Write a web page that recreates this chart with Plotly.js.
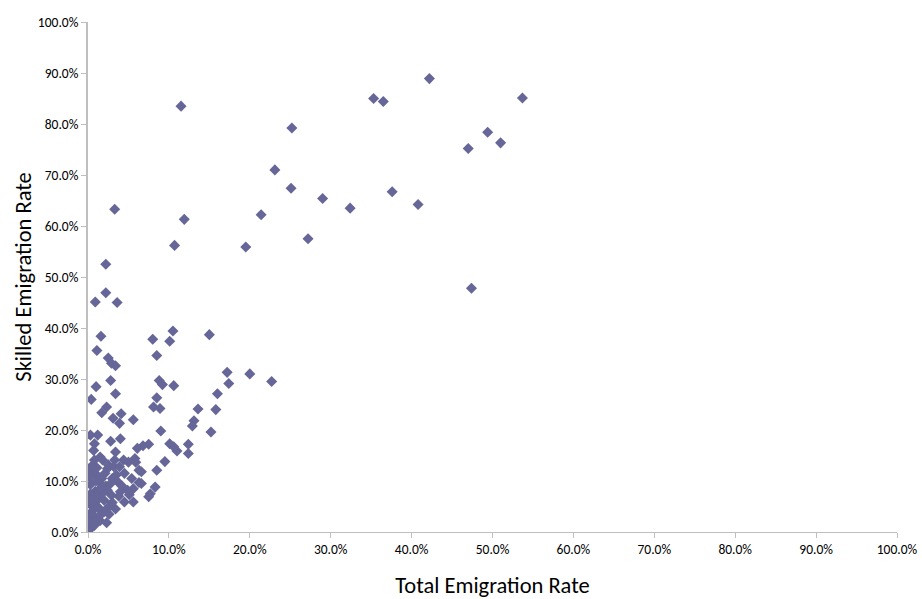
<!DOCTYPE html>
<html>
<head>
<meta charset="utf-8">
<script src="https://cdn.plot.ly/plotly-3.0.1.min.js"></script>
<style>html,body{margin:0;padding:0;background:#fff;}#chart{width:922px;height:599px;}</style>
</head>
<body>
<div id="chart"></div>
<script>
// Total emigration rate (%) for each country
var totalRate = [
  42.2, 35.3, 36.5, 53.7, 11.5, 25.2, 49.4, 51.0, 47.0, 23.1,
  25.1, 37.6, 29.0, 40.8, 32.4, 3.3, 21.4, 11.9, 27.2, 10.7,
  19.5, 2.2, 47.4, 2.2, 0.9, 3.6, 10.5, 15.0, 1.6, 8.0,
  10.1, 1.1, 8.5, 2.5, 2.9, 3.4, 17.2, 20.0, 2.8, 8.8,
  22.7, 17.4, 9.2, 10.6, 1.0, 3.4, 16.0, 8.5, 0.4, 2.3,
  8.1, 8.9, 13.6, 15.8, 1.7, 4.1, 3.1, 5.6, 13.1, 3.9,
  12.9, 9.0, 15.2, 0.3, 1.2, 4.0, 2.8, 0.8, 7.5, 12.4,
  10.1, 6.8, 10.6, 6.1, 11.0, 0.7, 3.4, 12.4, 1.5, 5.8,
  0.8, 1.8, 3.3, 4.4, 5.0, 5.9, 9.5, 2.4, 6.3, 8.5,
  6.6, 4.5, 0.5, 1.2, 5.4, 3.0, 1.4, 3.7, 6.6, 0.3,
  2.2, 8.3, 4.9, 5.6, 0.9, 1.8, 7.7, 2.9, 3.8, 7.5,
  0.4, 1.3, 2.0, 4.5, 5.6, 0.2, 1.0, 2.6, 1.4, 3.4,
  0.5, 1.8, 0.2, 0.6, 1.1, 0.3, 0.8, 0.4, 0.1, 0.6,
  2.4, 3.2, 1.7, 4.0, 2.6, 0.9, 2.1, 1.5, 0.2, 0.5,
  5.1, 6.3, 0.3, 1.5, 2.8, 3.5, 1.0, 2.0, 3.0, 0.7,
  1.3, 4.2, 2.5, 1.1, 3.9, 0.2, 2.3
];
// Skilled emigration rate (%) for each country
var skilledRate = [
  88.9, 85.0, 84.4, 85.1, 83.5, 79.2, 78.4, 76.3, 75.2, 71.0,
  67.4, 66.7, 65.4, 64.2, 63.5, 63.3, 62.2, 61.3, 57.5, 56.2,
  55.9, 52.5, 47.8, 46.9, 45.1, 45.0, 39.4, 38.7, 38.4, 37.8,
  37.4, 35.6, 34.6, 34.1, 33.1, 32.6, 31.3, 31.0, 29.7, 29.7,
  29.5, 29.1, 28.9, 28.7, 28.5, 27.1, 27.1, 26.3, 26.0, 24.5,
  24.5, 24.2, 24.1, 24.0, 23.4, 23.2, 22.3, 22.0, 21.8, 21.3,
  20.8, 19.8, 19.6, 19.0, 19.0, 18.3, 17.8, 17.3, 17.2, 17.2,
  17.3, 16.9, 16.7, 16.4, 15.9, 16.0, 15.7, 15.4, 14.7, 14.4,
  14.1, 14.1, 14.1, 14.1, 13.7, 13.7, 13.8, 12.4, 12.1, 12.1,
  11.8, 11.5, 11.8, 11.0, 10.5, 10.5, 9.8, 9.8, 9.5, 9.3,
  9.0, 8.8, 8.2, 8.5, 8.0, 7.6, 7.5, 7.2, 7.0, 6.9,
  6.8, 6.5, 6.2, 5.9, 5.9, 5.5, 5.2, 5.0, 4.6, 4.5,
  4.0, 3.8, 3.0, 3.3, 2.5, 2.0, 1.3, 0.9, 0.3, 6.0,
  8.2, 12.8, 10.5, 7.9, 3.5, 7.1, 11.5, 2.2, 12.5, 13.0,
  7.3, 9.7, 7.5, 8.5, 9.5, 11.2, 10.0, 4.0, 5.8, 2.0,
  3.0, 9.0, 13.2, 12.6, 12.8, 10.8, 1.8
];
var tickVals = [0, 10, 20, 30, 40, 50, 60, 70, 80, 90, 100];
var tickText = ["0.0%", "10.0%", "20.0%", "30.0%", "40.0%", "50.0%", "60.0%", "70.0%", "80.0%", "90.0%", "100.0%"];

var trace = {
  type: 'scatter',
  mode: 'markers',
  x: totalRate,
  y: skilledRate,
  marker: {symbol: 'diamond', size: 8.5, color: '#666699'},
  hoverinfo: 'x+y'
};

var font = "Carlito, 'Open Sans', 'Liberation Sans', sans-serif";
var layout = {
  width: 922,
  height: 599,
  margin: {l: 87.5, r: 24.5, t: 21.7, b: 67.3},
  paper_bgcolor: '#ffffff',
  plot_bgcolor: '#ffffff',
  showlegend: false,
  font: {family: font, color: '#000000', size: 13.5},
  xaxis: {
    range: [0, 100],
    tickvals: tickVals,
    ticktext: tickText,
    showgrid: false,
    zeroline: false,
    showline: true,
    linecolor: '#bfbfbf',
    linewidth: 1,
    ticks: 'outside',
    ticklen: 5,
    tickcolor: '#bfbfbf',
    tickfont: {family: font, size: 13.5, color: '#000'},
    title: {text: 'Total Emigration Rate', font: {family: font, size: 22.5, color: '#000'}, standoff: 20}
  },
  yaxis: {
    range: [0, 100],
    tickvals: tickVals,
    ticktext: tickText,
    showgrid: false,
    zeroline: false,
    showline: true,
    linecolor: '#bfbfbf',
    linewidth: 2,
    ticks: 'outside',
    ticklen: 5,
    tickcolor: '#bfbfbf',
    tickfont: {family: font, size: 13.5, color: '#000'},
    title: {text: 'Skilled Emigration Rate', font: {family: font, size: 22.5, color: '#000'}, standoff: 0}
  }
};

Plotly.newPlot('chart', [trace], layout, {displayModeBar: false, staticPlot: true});
</script>
</body>
</html>
